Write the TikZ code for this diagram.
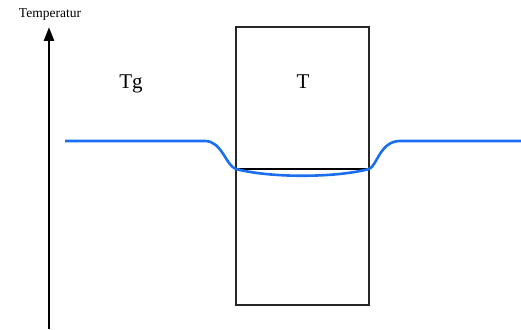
\documentclass[tikz,border=0pt]{standalone}
\usepackage{fontspec}
\setmainfont{Liberation Serif}
\usetikzlibrary{arrows.meta}
\definecolor{curveblue}{RGB}{26,110,240}
\begin{document}
\begin{tikzpicture}[x=1pt,y=-1pt,
  axisline/.style={line width=2.8pt,-{Triangle[length=14pt,width=10pt]}},
  boxline/.style={draw=black!85,line width=1.4pt},
  curveline/.style={draw=curveblue,line width=2.6pt},
  lbl/.style={inner sep=0pt,font=\fontsize{21}{24}\selectfont}]
\useasboundingbox (0,0) rectangle (521,329);
\coordinate (axb) at (49,329);
\coordinate (axt) at (49,27);
\draw[axisline] (axb) -- (axt);
\node[inner sep=0pt,font=\fontsize{13.5}{15}\selectfont] (temp) at (50,15) {Temperatur};
\node[boxline,minimum width=133pt,minimum height=278pt,inner sep=0pt] (box) at (302.5,166) {};
\coordinate (hl) at (236,169);
\coordinate (hr) at (369,169);
\draw[black,line width=2pt] (hl) -- (hr);
\node[lbl] (tg) at (131,84) {Tg};
\node[lbl] (t) at (303,82) {T};
\coordinate (c0) at (65,141);
\coordinate (c1) at (205,141);
\coordinate (c2) at (400,141);
\coordinate (c3) at (521,141);
\draw[curveline] (c0) -- (c1)
  .. controls (222,141) and (226,166) .. (hl)
  .. controls (270,178) and (335,178) .. (hr)
  .. controls (377,166) and (380,141) .. (c2) -- (c3);
\end{tikzpicture}
\end{document}
